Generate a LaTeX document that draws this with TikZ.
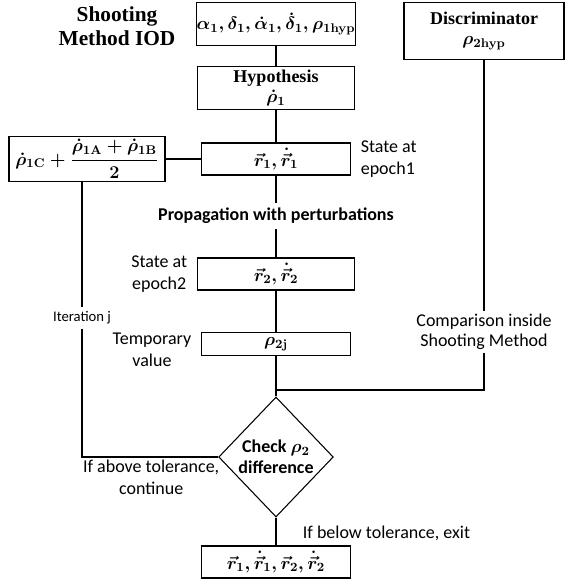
\RequirePackage{fix-cm}
\documentclass[tikz,border=0pt]{standalone}
\usepackage{amsmath}
\usepackage{fontspec}
\setmainfont{Carlito}
\newfontfamily\timesfam{Liberation Serif}
\usetikzlibrary{shapes.geometric,positioning}

\tikzset{
  box/.style={draw, line width=0.8pt, inner sep=0pt, align=center,
    font=\boldmath\fontsize{13.5}{16}\selectfont},
  titlebox/.style={box, font=\timesfam\bfseries\boldmath\fontsize{13.5}{15}\selectfont},
  decision/.style={diamond, draw, line width=0.8pt, inner sep=0pt, aspect=1,
    align=center, font=\bfseries\boldmath\fontsize{13.5}{16}\selectfont},
  note/.style={inner sep=1pt, align=center, font=\fontsize{13.5}{16.5}\selectfont},
  link/.style={line width=0.8pt},
}

\begin{document}
\begin{tikzpicture}[x=0.75pt,y=-0.75pt]
\useasboundingbox (0,0) rectangle (565,583);

% heading
\node[font=\timesfam\bfseries\fontsize{16}{18}\selectfont, align=center] (title) at (117,26) {Shooting\\Method IOD};

% main column
\node[box, minimum width=118pt, minimum height=32pt] (init) at (276,24) {$\alpha_1, \delta_1, \dot{\alpha}_1, \dot{\delta}_1, \rho_{\mathbf{1hyp}}$};
\node[titlebox, minimum width=118pt, minimum height=32pt] (hyp) at (276,88) {Hypothesis\\$\dot{\rho}_1$};
\node[box, minimum width=112pt, minimum height=24pt] (state1) at (276,159) {$\vec{r}_1, \dot{\vec{r}}_1$};
\node[note, inner sep=4pt, font=\bfseries\fontsize{13.5}{16.5}\selectfont] (prop) at (276,216) {Propagation with perturbations};
\node[box, minimum width=118pt, minimum height=24pt] (state2) at (276,274) {$\vec{r}_2, \dot{\vec{r}}_2$};
\node[box, minimum width=112pt, minimum height=17pt] (rho2j) at (276,344) {$\rho_{\mathbf{2j}}$};
\coordinate (join) at (276,390);
\node[decision, minimum width=86pt, minimum height=90pt] (check) at (276,457) {Check $\rho_2$\\difference};
\node[box, minimum width=112pt, minimum height=24pt] (final) at (276,562) {$\vec{r}_1, \dot{\vec{r}}_1, \vec{r}_2, \dot{\vec{r}}_2$};

% side boxes
\node[titlebox, minimum width=120pt, minimum height=43pt] (disc) at (484,31) {Discriminator\\$\rho_{\mathbf{2hyp}}$};
\node[box, minimum width=117pt, minimum height=34pt] (guess) at (87,159) {$\dot{\rho}_{\mathbf{1C}} + \dfrac{\dot{\rho}_{\mathbf{1A}} + \dot{\rho}_{\mathbf{1B}}}{2}$};

% labels
\node[note, align=left, right=6pt of state1] (epoch1) {State at\\epoch1};
\node[note, left=6pt of state2] (epoch2) {State at\\epoch2};
\node[note, left=6pt of rho2j, yshift=-4pt] (temp) {Temporary\\value};
\node[inner sep=3pt, font=\fontsize{11}{13}\selectfont] (iter) at (82,318) {Iteration j};
\node[note, inner sep=2pt, font=\fontsize{13.5}{15}\selectfont] (comp) at (484,332) {Comparison inside\\Shooting Method};
\node[note, anchor=north east] (cont) at ([xshift=2pt,yshift=-1pt]check.west) {If above tolerance,\\continue};
\node[note, anchor=south west] (exit) at ([xshift=19pt,yshift=2pt]final.north) {If below tolerance, exit};

% connectors
\draw[link] (init) -- (hyp);
\draw[link] (hyp) -- (state1);
\draw[link] (guess) -- (state1);
\draw[link] (state1) -- (prop);
\draw[link] (prop) -- (state2);
\draw[link] (state2) -- (rho2j);
\draw[link] (rho2j) -- (check);
\draw[link] (disc) -- (comp);
\draw[link] (comp) |- (join);
\draw[link] (guess.south -| iter) -- (iter);
\draw[link] (iter) |- (check);
\draw[link] (check) -- (final);
\end{tikzpicture}
\end{document}
